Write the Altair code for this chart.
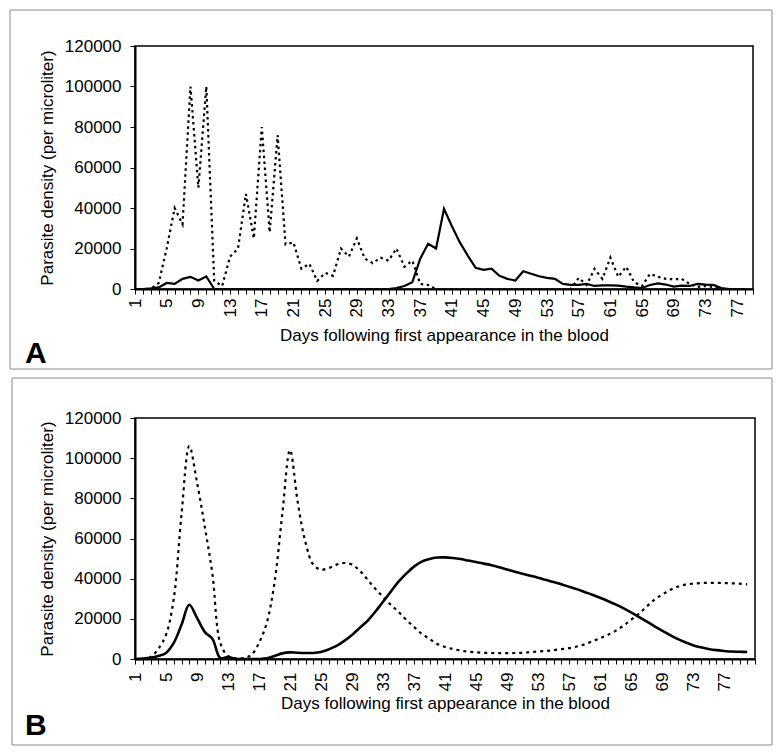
import altair as alt
import pandas as pd

# ---------------- data ----------------
days_a = list(range(1, 79))
solid_a = [0, 0, 300, 800, 3000, 2500, 5000, 6000, 4200, 6200,
           0, 0, 0, 0, 0, 0, 0, 0, 0, 0,
           0, 0, 0, 0, 0, 0, 0, 0, 0, 0,
           0, 0, 0, 500, 1500, 3300, 15000, 22300, 20000, 39600,
           31000, 23000, 16500, 10500, 9500, 10000, 6500, 5000, 4200, 8800,
           7500, 6300, 5500, 5000, 2500, 2000, 2000, 2500, 1500, 1800,
           1800, 1700, 1200, 800, 500, 2000, 2800, 2200, 1200, 1700,
           1500, 2500, 2200, 2000, 500, 0, 0, 0]
dotted_a = [0, 0, 0, 3000, 20000, 40000, 32000, 100000, 50000, 100000,
            4000, 1500, 16000, 20000, 47000, 25000, 80000, 28000, 76000, 22000,
            23000, 10000, 12500, 4000, 8000, 6500, 20000, 16000, 25000, 15000,
            12800, 15500, 14000, 20000, 11000, 14000, 2500, 2000, 0, 0,
            0, 0, 0, 0, 0, 0, 0, 0, 0, 0,
            0, 0, 0, 0, 0, 0, 5500, 2000, 10000, 5000,
            15500, 6000, 11000, 3300, 1500, 7500, 6000, 5000, 4800, 5000,
            2500, 1000, 1500, 1000, 0, 0, 0, 0]

days_b = list(range(1, 81))
solid_b = [0, 200, 600, 1500, 3000, 8000, 17000, 27000, 20500, 13500,
           10000, 500, 1000, 0, 0, 0, 0, 300, 1500, 2800,
           3300, 3100, 3000, 3000, 3500, 4800, 6500, 9000, 12000, 15500,
           19000, 23500, 28500, 33500, 38500, 42500, 46000, 48500, 49800, 50500,
           50600, 50300, 49800, 49000, 48300, 47500, 46700, 45700, 44600, 43500,
           42500, 41500, 40500, 39400, 38300, 37200, 36000, 34800, 33400, 32000,
           30500, 28900, 27200, 25300, 23200, 21000, 18700, 16400, 14100, 12000,
           10000, 8300, 6900, 5800, 5000, 4400, 4000, 3700, 3600, 3500]
dotted_b = [0, 0, 1000, 5000, 12000, 30000, 72000, 106000, 88000, 66000,
            42000, 8000, 1500, 300, 500, 2000, 8000, 18000, 38000, 72000,
            104000, 78000, 58000, 47000, 44500, 45300, 47000, 47800, 47000, 44000,
            39500, 35000, 31000, 27000, 23500, 19500, 16000, 12500, 10000, 7500,
            6000, 5000, 4200, 3700, 3300, 3100, 3000, 2900, 2900, 3000,
            3100, 3400, 3700, 4000, 4400, 4900, 5400, 6200, 7300, 8800,
            10300, 12000, 14000, 16500, 19500, 22500, 26000, 29500, 32000, 34300,
            36000, 37000, 37500, 37800, 37900, 37900, 37800, 37700, 37500, 37200]

y_ticks = [0, 20000, 40000, 60000, 80000, 100000, 120000]
x_title = "Days following first appearance in the blood"
y_title = "Parasite density (per microliter)"

FONT = "Liberation Sans, Arial, Helvetica, sans-serif"


def panel(days, solid, dotted, xmax, width, height, letter, frame, interp,
          dash, solid_w, label_pad, title_pad):
    df_s = pd.DataFrame({"day": days, "value": solid})
    df_d = pd.DataFrame({"day": days, "value": dotted})
    xenc = alt.X(
        "day:Q",
        scale=alt.Scale(domain=[1, xmax], nice=False, zero=False),
        axis=alt.Axis(
            title=x_title,
            values=list(range(1, xmax + 1)),
            labelExpr="((datum.value - 1) % 4 == 0 && datum.value <= 77) ? datum.label : ''",
            labelAngle=-90,
            labelPadding=label_pad,
            titlePadding=title_pad,
            tickSize=5,
            labelOverlap=False,
            labelFlush=False,
        ),
    )
    yenc = alt.Y(
        "value:Q",
        scale=alt.Scale(domain=[0, 120000], nice=False),
        axis=alt.Axis(title=y_title, values=y_ticks, format="d",
                      tickSize=5, labelPadding=9, titlePadding=8),
    )
    base_s = alt.Chart(df_s).mark_line(color="black", strokeWidth=solid_w,
                                       interpolate=interp)
    base_d = alt.Chart(df_d).mark_line(color="black", strokeWidth=2.2,
                                       strokeDash=dash, interpolate=interp)
    line_s = base_s.encode(x=xenc, y=yenc)
    line_d = base_d.encode(x=xenc, y=yenc)
    one = pd.DataFrame({"k": [0]})
    box = alt.Chart(one).mark_rect(fillOpacity=0, stroke="#8a8a8a",
                                   strokeWidth=1).encode(
        x=alt.value(frame[0]), x2=alt.value(frame[1]),
        y=alt.value(frame[2]), y2=alt.value(frame[3]))
    lab = alt.Chart(one).mark_text(text=letter, fontSize=30, fontWeight="bold",
                                   font=FONT, align="left",
                                   baseline="alphabetic", color="black").encode(
        x=alt.value(-110), y=alt.value(317))
    return alt.layer(box, line_d, line_s, lab).properties(width=width,
                                                          height=height)


pa = panel(days_a, solid_a, dotted_a, 79, 618, 243, "A",
           (-125, 637, -36, 323), "linear", [2.5, 3.5], 2.2, 4, 11)
pb = panel(days_b, solid_b, dotted_b, 81, 620, 241, "B",
           (-123, 637, -40, 327), "catmull-rom", [3, 4], 2.6, 8, 5)

chart = alt.vconcat(pa, pb, spacing=5).properties(
    padding=0, background="white"
).configure_view(
    stroke="black", strokeWidth=1.5
).configure_axis(
    labelFont=FONT, titleFont=FONT, labelFontSize=17, titleFontSize=17,
    labelColor="black", titleColor="black", titleFontWeight="normal",
    domainColor="black", domainWidth=2, tickColor="black", tickWidth=1,
    grid=False, zindex=1,
)

chart.save("out.html", embed_options={"renderer": "svg", "actions": False})
